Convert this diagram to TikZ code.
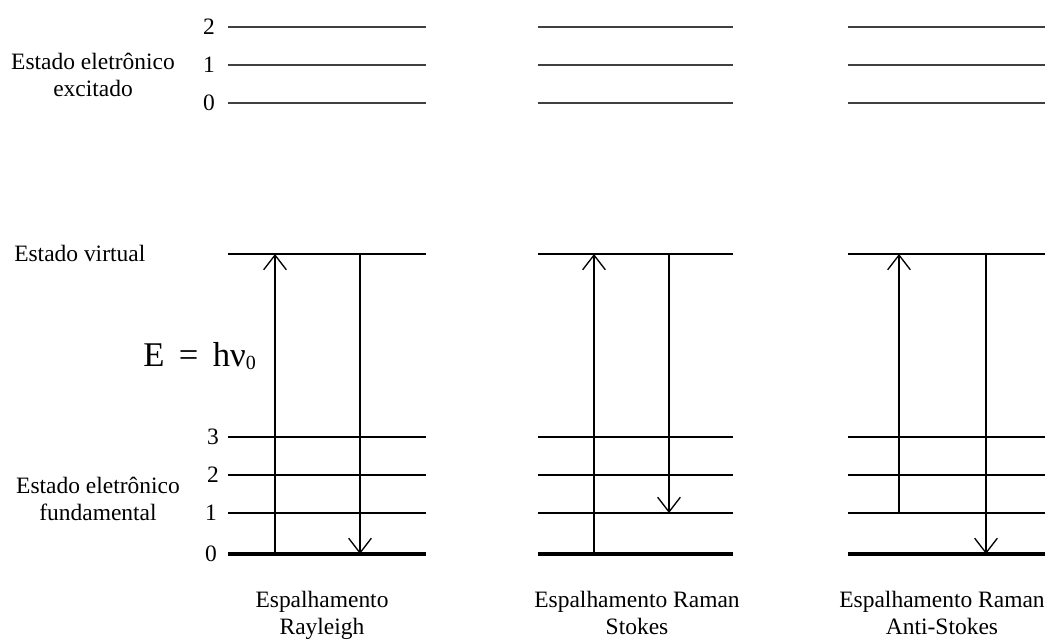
\documentclass[tikz,border=0pt]{standalone}
\usepackage{fontspec}
\setmainfont{Liberation Serif}
\usetikzlibrary{arrows.meta}

\begin{document}
\begin{tikzpicture}[x=0.75pt, y=-0.75pt,
    excited line/.style = {line width=1.4pt, black!75},
    level line/.style = {line width=1.1pt, black},
    ground line/.style = {line width=2.3pt, black},
    transition/.style = {line width=1.1pt, -{Straight Barb[length=11pt, width=17pt, line width=1pt]}},
    label text/.style = {font=\fontsize{17.6}{20}\selectfont, align=center, inner sep=0pt},
    digit/.style = {font=\fontsize{17.6}{20}\selectfont, inner sep=0pt}
]
\useasboundingbox (0,0) rectangle (1045,641);

% --- NÍVEIS DE ENERGIA E TRANSIÇÕES ---
% coluna/inicio/fim/x subida/nivel partida/x descida/nivel chegada
\foreach \col/\xa/\xb/\xu/\from/\xd/\to in {
    ray/228/426/275/554/360/554,
    sto/538/733/594/554/669/513,
    ant/848/1045/899/513/986/554%
} {
    % estado eletrônico excitado
    \foreach \y in {27, 65, 103}
        \draw[excited line] (\xa,\y) -- (\xb,\y);
    % estado virtual
    \draw[level line] (\xa,254) -- (\xb,254);
    % estado eletrônico fundamental
    \foreach \y in {437, 475, 513}
        \draw[level line] (\xa,\y) -- (\xb,\y);
    \draw[ground line] (\xa,554) -- (\xb,554);

    \coordinate (\col-up-a) at (\xu,\from);
    \coordinate (\col-up-b) at (\xu,254);
    \coordinate (\col-down-a) at (\xd,254);
    \coordinate (\col-down-b) at (\xd,\to);
    \draw[transition] (\col-up-a) -- (\col-up-b);
    \draw[transition] (\col-down-a) -- (\col-down-b);
}

% --- RÓTULOS ---
\node[digit] (ex2) at (209,27) {2};
\node[digit] (ex1) at (209,65) {1};
\node[digit] (ex0) at (209,103) {0};
\node[label text] (excited) at (93,75) {Estado eletrônico\\ excitado};

\node[label text, anchor=west] (virtual) at (14,253) {Estado virtual};

\node[anchor=base west, inner sep=0pt, font=\fontsize{26}{30}\selectfont] (energy) at (143,366)
    {E \,=\, hν\raisebox{-0.25ex}{\fontsize{15}{17}\selectfont 0}};

\node[digit] (gr3) at (213,437) {3};
\node[digit] (gr2) at (213,475) {2};
\node[digit] (gr1) at (211,513) {1};
\node[digit] (gr0) at (211,554) {0};
\node[label text] (ground) at (98,499) {Estado eletrônico\\ fundamental};

% títulos das colunas
\node[label text, anchor=north] (rayleigh) at (322,591) {Espalhamento\\ Rayleigh};
\node[label text, anchor=north] (stokes) at (637,591) {Espalhamento Raman\\ Stokes};
\node[label text, anchor=north] (antistokes) at (942,591) {Espalhamento Raman\\ Anti-Stokes};

\end{tikzpicture}
\end{document}
